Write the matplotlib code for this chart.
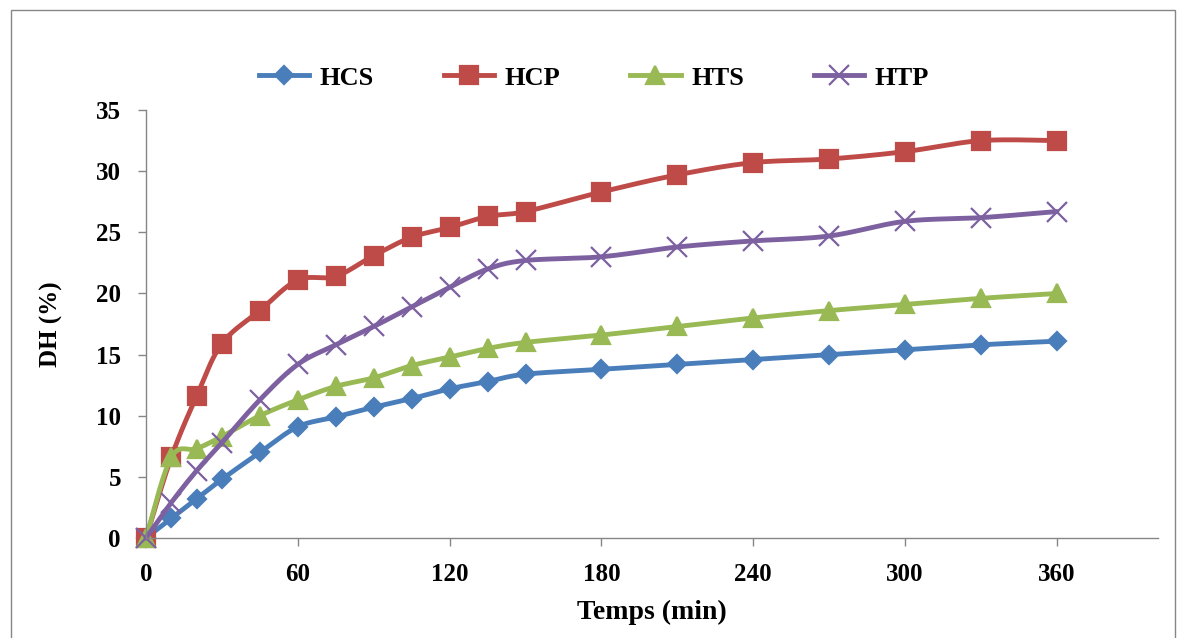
import numpy as np
import matplotlib.pyplot as plt
from matplotlib.patches import Rectangle

temps = [0, 10, 20, 30, 45, 60, 75, 90, 105, 120, 135, 150, 180, 210, 240, 270, 300, 330, 360]
hcs = [0, 1.6, 3.2, 4.8, 7.0, 9.1, 9.9, 10.7, 11.4, 12.2, 12.8, 13.4, 13.8, 14.2, 14.6, 15.0, 15.4, 15.8, 16.1]
hcp = [0, 6.6, 11.6, 15.9, 18.6, 21.1, 21.4, 23.1, 24.6, 25.4, 26.3, 26.7, 28.3, 29.7, 30.7, 31.0, 31.6, 32.5, 32.5]
hts = [0, 6.6, 7.3, 8.3, 10.0, 11.3, 12.4, 13.1, 14.1, 14.8, 15.5, 16.0, 16.6, 17.3, 18.0, 18.6, 19.1, 19.6, 20.0]
htp = [0, 2.9, 5.5, 7.8, 11.3, 14.2, 15.8, 17.3, 18.9, 20.5, 22.0, 22.7, 23.0, 23.8, 24.3, 24.7, 25.9, 26.2, 26.7]

names = ['HCS', 'HCP', 'HTS', 'HTP']
colors = ['#4A7EBB', '#BE4B48', '#98B954', '#7D60A0']
markers = ['D', 's', '^', 'x']
msizes = [9.5, 13, 13, 14]
x_ticks = [0, 60, 120, 180, 240, 300, 360]
y_ticks = [0, 5, 10, 15, 20, 25, 30, 35]


def smooth(x, y, n=20):
    # Excel-like smoothed line (bezier through points)
    p = np.column_stack([x, y]).astype(float)
    out = [p[0]]
    for i in range(len(p) - 1):
        p0 = p[i - 1] if i > 0 else p[i]
        p1, p2 = p[i], p[i + 1]
        p3 = p[i + 2] if i + 2 < len(p) else p[i + 1]
        c1 = p1 + (p2 - p0) / 6
        c2 = p2 - (p3 - p1) / 6
        t = np.linspace(0, 1, n)[1:, None]
        seg = (1 - t)**3 * p1 + 3 * (1 - t)**2 * t * c1 + 3 * (1 - t) * t**2 * c2 + t**3 * p2
        out.extend(seg)
    out = np.array(out)
    return out[:, 0], out[:, 1]


plt.rcParams['font.family'] = 'Liberation Serif'
plt.rcParams['font.weight'] = 'bold'

fig = plt.figure(figsize=(11.81, 6.38), dpi=100)
ax = fig.add_axes([0.1236, 0.1567, 0.857, 0.6708])

for name, data, c, m, ms in zip(names, [hcs, hcp, hts, htp], colors, markers, msizes):
    sx, sy = smooth(temps, data)
    ax.plot(sx, sy, color=c, lw=3.5, solid_capstyle='round', clip_on=False)
    ax.plot(temps, data, ls='none', marker=m, color=c, ms=ms, mew=1.6, clip_on=False)
    ax.plot([], [], color=c, lw=3.5, marker=m, ms=ms, mew=1.6, label=name)

ax.set_xlim(0, 400)
ax.set_ylim(0, 35)
ax.set_xticks(x_ticks)
ax.set_yticks(y_ticks)
ax.tick_params(axis='x', length=6, width=1, color='#868686', labelsize=18, pad=12)
ax.tick_params(axis='y', length=6, width=1, color='#868686', labelsize=18, pad=12)
for s in ['top', 'right']:
    ax.spines[s].set_visible(False)
for s in ['left', 'bottom']:
    ax.spines[s].set_color('#868686')
    ax.spines[s].set_linewidth(1)

ax.set_xlabel('Temps (min)', fontsize=20, fontweight='bold', labelpad=10)
ax.set_ylabel('DH (%)', fontsize=18, fontweight='bold', labelpad=24)

fig.legend(loc='center', bbox_to_anchor=(0.503, 0.878), ncol=4, frameon=False,
           fontsize=19, handlelength=1.9, handletextpad=0.4, columnspacing=2.65)

fig.patches.append(Rectangle((0.0093, -0.02), 0.986, 1.0043, transform=fig.transFigure,
                             fill=False, edgecolor='#868686', lw=1))

fig.savefig('out.png', dpi=100)
